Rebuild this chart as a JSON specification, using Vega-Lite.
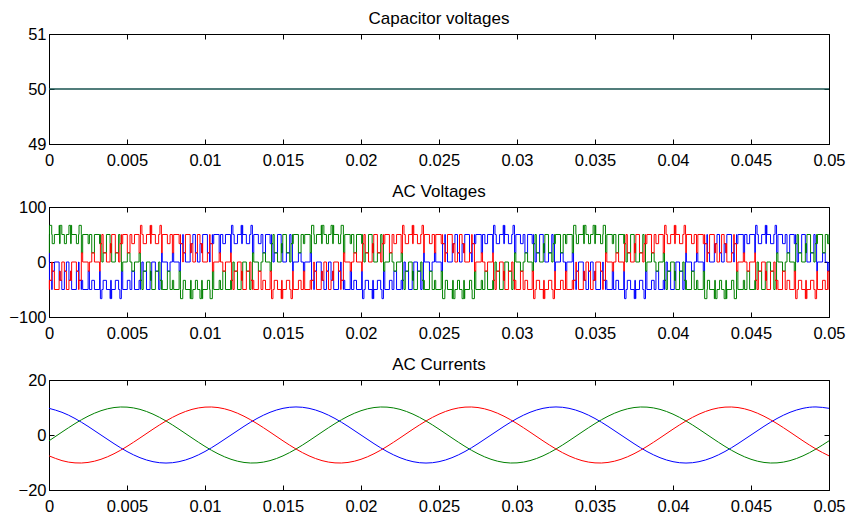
{
"$schema":"https://vega.github.io/schema/vega-lite/v6.json",
"padding":{"left":8,"top":9,"right":5,"bottom":2},
"background":"white",
"bounds":"flush",
"spacing":63,
"config":{
"font":"Liberation Sans",
"view":{"stroke":"black","strokeWidth":1},
"axis":{"grid":false,"title":null,"domainColor":"black","tickColor":"black","labelColor":"black","labelFontSize":16.5,"labelFont":"Liberation Sans","tickSize":-5,"labelFlush":false,"labelOverlap":false,"minExtent":0},
"title":{"fontSize":17,"fontWeight":"normal","color":"black","offset":-2,"font":"Liberation Sans"}
},
"datasets":{
"cap":[{"t":0,"v":50},{"t":0.05,"v":50}],
"cur":[
{"t":0,"b":9.70,"g":-2.12,"r":-7.58},
{"t":0.000833,"b":8.25,"g":1.07,"r":-9.32},
{"t":0.001667,"b":6.00,"g":4.15,"r":-10.14},
{"t":0.0025,"b":3.15,"g":6.82,"r":-9.98},
{"t":0.003333,"b":0,"g":8.83,"r":-8.83},
{"t":0.004167,"b":-3.15,"g":9.98,"r":-6.82},
{"t":0.005,"b":-6.00,"g":10.14,"r":-4.15},
{"t":0.005833,"b":-8.25,"g":9.32,"r":-1.07},
{"t":0.006667,"b":-9.70,"g":7.58,"r":2.12},
{"t":0.0075,"b":-10.2,"g":5.10,"r":5.10},
{"t":0.008333,"b":-9.70,"g":2.12,"r":7.58},
{"t":0.009167,"b":-8.25,"g":-1.07,"r":9.32},
{"t":0.01,"b":-6.00,"g":-4.15,"r":10.14},
{"t":0.010833,"b":-3.15,"g":-6.82,"r":9.98},
{"t":0.011667,"b":0,"g":-8.83,"r":8.83},
{"t":0.0125,"b":3.15,"g":-9.98,"r":6.82},
{"t":0.013333,"b":6.00,"g":-10.14,"r":4.15},
{"t":0.014167,"b":8.25,"g":-9.32,"r":1.07},
{"t":0.015,"b":9.70,"g":-7.58,"r":-2.12},
{"t":0.015833,"b":10.2,"g":-5.10,"r":-5.10},
{"t":0.016667,"b":9.70,"g":-2.12,"r":-7.58},
{"t":0.0175,"b":8.25,"g":1.07,"r":-9.32},
{"t":0.018333,"b":6.00,"g":4.15,"r":-10.14},
{"t":0.019167,"b":3.15,"g":6.82,"r":-9.98},
{"t":0.02,"b":0,"g":8.83,"r":-8.83},
{"t":0.020833,"b":-3.15,"g":9.98,"r":-6.82},
{"t":0.021667,"b":-6.00,"g":10.14,"r":-4.15},
{"t":0.0225,"b":-8.25,"g":9.32,"r":-1.07},
{"t":0.023333,"b":-9.70,"g":7.58,"r":2.12},
{"t":0.024167,"b":-10.2,"g":5.10,"r":5.10},
{"t":0.025,"b":-9.70,"g":2.12,"r":7.58},
{"t":0.025833,"b":-8.25,"g":-1.07,"r":9.32},
{"t":0.026667,"b":-6.00,"g":-4.15,"r":10.14},
{"t":0.0275,"b":-3.15,"g":-6.82,"r":9.98},
{"t":0.028333,"b":0,"g":-8.83,"r":8.83},
{"t":0.029167,"b":3.15,"g":-9.98,"r":6.82},
{"t":0.03,"b":6.00,"g":-10.14,"r":4.15},
{"t":0.030833,"b":8.25,"g":-9.32,"r":1.07},
{"t":0.031667,"b":9.70,"g":-7.58,"r":-2.12},
{"t":0.0325,"b":10.2,"g":-5.10,"r":-5.10},
{"t":0.033333,"b":9.70,"g":-2.12,"r":-7.58},
{"t":0.034167,"b":8.25,"g":1.07,"r":-9.32},
{"t":0.035,"b":6.00,"g":4.15,"r":-10.14},
{"t":0.035833,"b":3.15,"g":6.82,"r":-9.98},
{"t":0.036667,"b":0,"g":8.83,"r":-8.83},
{"t":0.0375,"b":-3.15,"g":9.98,"r":-6.82},
{"t":0.038333,"b":-6.00,"g":10.14,"r":-4.15},
{"t":0.039167,"b":-8.25,"g":9.32,"r":-1.07},
{"t":0.04,"b":-9.70,"g":7.58,"r":2.12},
{"t":0.040833,"b":-10.2,"g":5.10,"r":5.10},
{"t":0.041667,"b":-9.70,"g":2.12,"r":7.58},
{"t":0.0425,"b":-8.25,"g":-1.07,"r":9.32},
{"t":0.043333,"b":-6.00,"g":-4.15,"r":10.14},
{"t":0.044167,"b":-3.15,"g":-6.82,"r":9.98},
{"t":0.045,"b":0,"g":-8.83,"r":8.83},
{"t":0.045833,"b":3.15,"g":-9.98,"r":6.82},
{"t":0.046667,"b":6.00,"g":-10.14,"r":4.15},
{"t":0.0475,"b":8.25,"g":-9.32,"r":1.07},
{"t":0.048333,"b":9.70,"g":-7.58,"r":-2.12},
{"t":0.049167,"b":10.2,"g":-5.10,"r":-5.10},
{"t":0.05,"b":9.70,"g":-2.12,"r":-7.58}
],
"volt":[
{"t":0,"g":16.67,"r":-33.33,"b":16.67},
{"t":0.000024,"g":50,"r":-50,"b":0},
{"t":0.000029,"g":66.67,"r":-33.33,"b":-33.33},
{"t":0.000174,"g":50,"r":0,"b":-50},
{"t":0.000205,"g":33.33,"r":-16.67,"b":-16.67},
{"t":0.000345,"g":50,"r":-50,"b":0},
{"t":0.000649,"g":66.67,"r":-33.33,"b":-33.33},
{"t":0.000676,"g":33.33,"r":-16.67,"b":-16.67},
{"t":0.000714,"g":66.67,"r":-33.33,"b":-33.33},
{"t":0.000821,"g":50,"r":0,"b":-50},
{"t":0.000985,"g":33.33,"r":-16.67,"b":-16.67},
{"t":0.001115,"g":50,"r":-50,"b":0},
{"t":0.001279,"g":66.67,"r":-33.33,"b":-33.33},
{"t":0.001386,"g":33.33,"r":-16.67,"b":-16.67},
{"t":0.001424,"g":66.67,"r":-33.33,"b":-33.33},
{"t":0.001451,"g":50,"r":0,"b":-50},
{"t":0.001755,"g":33.33,"r":-16.67,"b":-16.67},
{"t":0.001895,"g":50,"r":-50,"b":0},
{"t":0.001926,"g":66.67,"r":-33.33,"b":-33.33},
{"t":0.002071,"g":50,"r":0,"b":-50},
{"t":0.002076,"g":16.67,"r":16.67,"b":-33.33},
{"t":0.002159,"g":50,"r":0,"b":-50},
{"t":0.002508,"g":33.33,"r":-16.67,"b":-16.67},
{"t":0.002591,"g":50,"r":0,"b":-50},
{"t":0.002741,"g":16.67,"r":16.67,"b":-33.33},
{"t":0.002912,"g":50,"r":0,"b":-50},
{"t":0.003243,"g":33.33,"r":-16.67,"b":-16.67},
{"t":0.003281,"g":50,"r":0,"b":-50},
{"t":0.003295,"g":33.33,"r":33.33,"b":-66.67},
{"t":0.003388,"g":0,"r":50,"b":-50},
{"t":0.003471,"g":16.67,"r":16.67,"b":-33.33},
{"t":0.003682,"g":50,"r":0,"b":-50},
{"t":0.003915,"g":33.33,"r":33.33,"b":-66.67},
{"t":0.003953,"g":16.67,"r":16.67,"b":-33.33},
{"t":0.003991,"g":33.33,"r":33.33,"b":-66.67},
{"t":0.004018,"g":0,"r":50,"b":-50},
{"t":0.004251,"g":16.67,"r":16.67,"b":-33.33},
{"t":0.004462,"g":50,"r":0,"b":-50},
{"t":0.004545,"g":33.33,"r":33.33,"b":-66.67},
{"t":0.004638,"g":0,"r":50,"b":-50},
{"t":0.004643,"g":-16.67,"r":33.33,"b":-16.67},
{"t":0.004726,"g":0,"r":50,"b":-50},
{"t":0.005021,"g":16.67,"r":16.67,"b":-33.33},
{"t":0.005192,"g":0,"r":50,"b":-50},
{"t":0.005308,"g":-16.67,"r":33.33,"b":-16.67},
{"t":0.005479,"g":0,"r":50,"b":-50},
{"t":0.005774,"g":16.67,"r":16.67,"b":-33.33},
{"t":0.005857,"g":0,"r":50,"b":-50},
{"t":0.005862,"g":-33.33,"r":66.67,"b":-33.33},
{"t":0.005955,"g":-50,"r":50,"b":0},
{"t":0.006038,"g":-16.67,"r":33.33,"b":-16.67},
{"t":0.006249,"g":0,"r":50,"b":-50},
{"t":0.006482,"g":-33.33,"r":66.67,"b":-33.33},
{"t":0.006509,"g":-16.67,"r":33.33,"b":-16.67},
{"t":0.006547,"g":-33.33,"r":66.67,"b":-33.33},
{"t":0.006585,"g":-50,"r":50,"b":0},
{"t":0.006818,"g":-16.67,"r":33.33,"b":-16.67},
{"t":0.007029,"g":0,"r":50,"b":-50},
{"t":0.007112,"g":-33.33,"r":66.67,"b":-33.33},
{"t":0.007205,"g":-50,"r":50,"b":0},
{"t":0.007219,"g":-33.33,"r":16.67,"b":16.67},
{"t":0.007257,"g":-50,"r":50,"b":0},
{"t":0.007588,"g":-16.67,"r":33.33,"b":-16.67},
{"t":0.007759,"g":-50,"r":50,"b":0},
{"t":0.007909,"g":-33.33,"r":16.67,"b":16.67},
{"t":0.007992,"g":-50,"r":50,"b":0},
{"t":0.008341,"g":-16.67,"r":33.33,"b":-16.67},
{"t":0.008424,"g":-50,"r":50,"b":0},
{"t":0.008429,"g":-66.67,"r":33.33,"b":33.33},
{"t":0.008574,"g":-50,"r":0,"b":50},
{"t":0.008605,"g":-33.33,"r":16.67,"b":16.67},
{"t":0.008745,"g":-50,"r":50,"b":0},
{"t":0.009049,"g":-66.67,"r":33.33,"b":33.33},
{"t":0.009076,"g":-33.33,"r":16.67,"b":16.67},
{"t":0.009114,"g":-66.67,"r":33.33,"b":33.33},
{"t":0.009221,"g":-50,"r":0,"b":50},
{"t":0.009385,"g":-33.33,"r":16.67,"b":16.67},
{"t":0.009515,"g":-50,"r":50,"b":0},
{"t":0.009679,"g":-66.67,"r":33.33,"b":33.33},
{"t":0.009786,"g":-33.33,"r":16.67,"b":16.67},
{"t":0.009824,"g":-66.67,"r":33.33,"b":33.33},
{"t":0.009851,"g":-50,"r":0,"b":50},
{"t":0.010155,"g":-33.33,"r":16.67,"b":16.67},
{"t":0.010295,"g":-50,"r":50,"b":0},
{"t":0.010326,"g":-66.67,"r":33.33,"b":33.33},
{"t":0.010471,"g":-50,"r":0,"b":50},
{"t":0.010476,"g":-16.67,"r":-16.67,"b":33.33},
{"t":0.010559,"g":-50,"r":0,"b":50},
{"t":0.010908,"g":-33.33,"r":16.67,"b":16.67},
{"t":0.010991,"g":-50,"r":0,"b":50},
{"t":0.011141,"g":-16.67,"r":-16.67,"b":33.33},
{"t":0.011312,"g":-50,"r":0,"b":50},
{"t":0.011643,"g":-33.33,"r":16.67,"b":16.67},
{"t":0.011681,"g":-50,"r":0,"b":50},
{"t":0.011695,"g":-33.33,"r":-33.33,"b":66.67},
{"t":0.011788,"g":0,"r":-50,"b":50},
{"t":0.011871,"g":-16.67,"r":-16.67,"b":33.33},
{"t":0.012082,"g":-50,"r":0,"b":50},
{"t":0.012315,"g":-33.33,"r":-33.33,"b":66.67},
{"t":0.012353,"g":-16.67,"r":-16.67,"b":33.33},
{"t":0.012391,"g":-33.33,"r":-33.33,"b":66.67},
{"t":0.012418,"g":0,"r":-50,"b":50},
{"t":0.012651,"g":-16.67,"r":-16.67,"b":33.33},
{"t":0.012862,"g":-50,"r":0,"b":50},
{"t":0.012945,"g":-33.33,"r":-33.33,"b":66.67},
{"t":0.013038,"g":0,"r":-50,"b":50},
{"t":0.013043,"g":16.67,"r":-33.33,"b":16.67},
{"t":0.013126,"g":0,"r":-50,"b":50},
{"t":0.013421,"g":-16.67,"r":-16.67,"b":33.33},
{"t":0.013592,"g":0,"r":-50,"b":50},
{"t":0.013708,"g":16.67,"r":-33.33,"b":16.67},
{"t":0.013879,"g":0,"r":-50,"b":50},
{"t":0.014174,"g":-16.67,"r":-16.67,"b":33.33},
{"t":0.014257,"g":0,"r":-50,"b":50},
{"t":0.014262,"g":33.33,"r":-66.67,"b":33.33},
{"t":0.014355,"g":50,"r":-50,"b":0},
{"t":0.014438,"g":16.67,"r":-33.33,"b":16.67},
{"t":0.014649,"g":0,"r":-50,"b":50},
{"t":0.014882,"g":33.33,"r":-66.67,"b":33.33},
{"t":0.014909,"g":16.67,"r":-33.33,"b":16.67},
{"t":0.014947,"g":33.33,"r":-66.67,"b":33.33},
{"t":0.014985,"g":50,"r":-50,"b":0},
{"t":0.015218,"g":16.67,"r":-33.33,"b":16.67},
{"t":0.015429,"g":0,"r":-50,"b":50},
{"t":0.015512,"g":33.33,"r":-66.67,"b":33.33},
{"t":0.015605,"g":50,"r":-50,"b":0},
{"t":0.015619,"g":33.33,"r":-16.67,"b":-16.67},
{"t":0.015657,"g":50,"r":-50,"b":0},
{"t":0.015988,"g":16.67,"r":-33.33,"b":16.67},
{"t":0.016159,"g":50,"r":-50,"b":0},
{"t":0.016309,"g":33.33,"r":-16.67,"b":-16.67},
{"t":0.016392,"g":50,"r":-50,"b":0},
{"t":0.016741,"g":16.67,"r":-33.33,"b":16.67},
{"t":0.016824,"g":50,"r":-50,"b":0},
{"t":0.016829,"g":66.67,"r":-33.33,"b":-33.33},
{"t":0.016974,"g":50,"r":0,"b":-50},
{"t":0.017005,"g":33.33,"r":-16.67,"b":-16.67},
{"t":0.017145,"g":50,"r":-50,"b":0},
{"t":0.017449,"g":66.67,"r":-33.33,"b":-33.33},
{"t":0.017476,"g":33.33,"r":-16.67,"b":-16.67},
{"t":0.017514,"g":66.67,"r":-33.33,"b":-33.33},
{"t":0.017621,"g":50,"r":0,"b":-50},
{"t":0.017785,"g":33.33,"r":-16.67,"b":-16.67},
{"t":0.017915,"g":50,"r":-50,"b":0},
{"t":0.018079,"g":66.67,"r":-33.33,"b":-33.33},
{"t":0.018186,"g":33.33,"r":-16.67,"b":-16.67},
{"t":0.018224,"g":66.67,"r":-33.33,"b":-33.33},
{"t":0.018251,"g":50,"r":0,"b":-50},
{"t":0.018555,"g":33.33,"r":-16.67,"b":-16.67},
{"t":0.018695,"g":50,"r":-50,"b":0},
{"t":0.018726,"g":66.67,"r":-33.33,"b":-33.33},
{"t":0.018871,"g":50,"r":0,"b":-50},
{"t":0.018876,"g":16.67,"r":16.67,"b":-33.33},
{"t":0.018959,"g":50,"r":0,"b":-50},
{"t":0.019308,"g":33.33,"r":-16.67,"b":-16.67},
{"t":0.019391,"g":50,"r":0,"b":-50},
{"t":0.019541,"g":16.67,"r":16.67,"b":-33.33},
{"t":0.019712,"g":50,"r":0,"b":-50},
{"t":0.020043,"g":33.33,"r":-16.67,"b":-16.67},
{"t":0.020081,"g":50,"r":0,"b":-50},
{"t":0.020095,"g":33.33,"r":33.33,"b":-66.67},
{"t":0.020188,"g":0,"r":50,"b":-50},
{"t":0.020271,"g":16.67,"r":16.67,"b":-33.33},
{"t":0.020482,"g":50,"r":0,"b":-50},
{"t":0.020715,"g":33.33,"r":33.33,"b":-66.67},
{"t":0.020753,"g":16.67,"r":16.67,"b":-33.33},
{"t":0.020791,"g":33.33,"r":33.33,"b":-66.67},
{"t":0.020818,"g":0,"r":50,"b":-50},
{"t":0.021051,"g":16.67,"r":16.67,"b":-33.33},
{"t":0.021262,"g":50,"r":0,"b":-50},
{"t":0.021345,"g":33.33,"r":33.33,"b":-66.67},
{"t":0.021438,"g":0,"r":50,"b":-50},
{"t":0.021443,"g":-16.67,"r":33.33,"b":-16.67},
{"t":0.021526,"g":0,"r":50,"b":-50},
{"t":0.021821,"g":16.67,"r":16.67,"b":-33.33},
{"t":0.021992,"g":0,"r":50,"b":-50},
{"t":0.022108,"g":-16.67,"r":33.33,"b":-16.67},
{"t":0.022279,"g":0,"r":50,"b":-50},
{"t":0.022574,"g":16.67,"r":16.67,"b":-33.33},
{"t":0.022657,"g":0,"r":50,"b":-50},
{"t":0.022662,"g":-33.33,"r":66.67,"b":-33.33},
{"t":0.022755,"g":-50,"r":50,"b":0},
{"t":0.022838,"g":-16.67,"r":33.33,"b":-16.67},
{"t":0.023049,"g":0,"r":50,"b":-50},
{"t":0.023282,"g":-33.33,"r":66.67,"b":-33.33},
{"t":0.023309,"g":-16.67,"r":33.33,"b":-16.67},
{"t":0.023347,"g":-33.33,"r":66.67,"b":-33.33},
{"t":0.023385,"g":-50,"r":50,"b":0},
{"t":0.023618,"g":-16.67,"r":33.33,"b":-16.67},
{"t":0.023829,"g":0,"r":50,"b":-50},
{"t":0.023912,"g":-33.33,"r":66.67,"b":-33.33},
{"t":0.024005,"g":-50,"r":50,"b":0},
{"t":0.024019,"g":-33.33,"r":16.67,"b":16.67},
{"t":0.024057,"g":-50,"r":50,"b":0},
{"t":0.024388,"g":-16.67,"r":33.33,"b":-16.67},
{"t":0.024559,"g":-50,"r":50,"b":0},
{"t":0.024709,"g":-33.33,"r":16.67,"b":16.67},
{"t":0.024792,"g":-50,"r":50,"b":0},
{"t":0.025141,"g":-16.67,"r":33.33,"b":-16.67},
{"t":0.025224,"g":-50,"r":50,"b":0},
{"t":0.025229,"g":-66.67,"r":33.33,"b":33.33},
{"t":0.025374,"g":-50,"r":0,"b":50},
{"t":0.025405,"g":-33.33,"r":16.67,"b":16.67},
{"t":0.025545,"g":-50,"r":50,"b":0},
{"t":0.025849,"g":-66.67,"r":33.33,"b":33.33},
{"t":0.025876,"g":-33.33,"r":16.67,"b":16.67},
{"t":0.025914,"g":-66.67,"r":33.33,"b":33.33},
{"t":0.026021,"g":-50,"r":0,"b":50},
{"t":0.026185,"g":-33.33,"r":16.67,"b":16.67},
{"t":0.026315,"g":-50,"r":50,"b":0},
{"t":0.026479,"g":-66.67,"r":33.33,"b":33.33},
{"t":0.026586,"g":-33.33,"r":16.67,"b":16.67},
{"t":0.026624,"g":-66.67,"r":33.33,"b":33.33},
{"t":0.026651,"g":-50,"r":0,"b":50},
{"t":0.026955,"g":-33.33,"r":16.67,"b":16.67},
{"t":0.027095,"g":-50,"r":50,"b":0},
{"t":0.027126,"g":-66.67,"r":33.33,"b":33.33},
{"t":0.027271,"g":-50,"r":0,"b":50},
{"t":0.027276,"g":-16.67,"r":-16.67,"b":33.33},
{"t":0.027359,"g":-50,"r":0,"b":50},
{"t":0.027708,"g":-33.33,"r":16.67,"b":16.67},
{"t":0.027791,"g":-50,"r":0,"b":50},
{"t":0.027941,"g":-16.67,"r":-16.67,"b":33.33},
{"t":0.028112,"g":-50,"r":0,"b":50},
{"t":0.028443,"g":-33.33,"r":16.67,"b":16.67},
{"t":0.028481,"g":-50,"r":0,"b":50},
{"t":0.028495,"g":-33.33,"r":-33.33,"b":66.67},
{"t":0.028588,"g":0,"r":-50,"b":50},
{"t":0.028671,"g":-16.67,"r":-16.67,"b":33.33},
{"t":0.028882,"g":-50,"r":0,"b":50},
{"t":0.029115,"g":-33.33,"r":-33.33,"b":66.67},
{"t":0.029153,"g":-16.67,"r":-16.67,"b":33.33},
{"t":0.029191,"g":-33.33,"r":-33.33,"b":66.67},
{"t":0.029218,"g":0,"r":-50,"b":50},
{"t":0.029451,"g":-16.67,"r":-16.67,"b":33.33},
{"t":0.029662,"g":-50,"r":0,"b":50},
{"t":0.029745,"g":-33.33,"r":-33.33,"b":66.67},
{"t":0.029838,"g":0,"r":-50,"b":50},
{"t":0.029843,"g":16.67,"r":-33.33,"b":16.67},
{"t":0.029926,"g":0,"r":-50,"b":50},
{"t":0.030221,"g":-16.67,"r":-16.67,"b":33.33},
{"t":0.030392,"g":0,"r":-50,"b":50},
{"t":0.030508,"g":16.67,"r":-33.33,"b":16.67},
{"t":0.030679,"g":0,"r":-50,"b":50},
{"t":0.030974,"g":-16.67,"r":-16.67,"b":33.33},
{"t":0.031057,"g":0,"r":-50,"b":50},
{"t":0.031062,"g":33.33,"r":-66.67,"b":33.33},
{"t":0.031155,"g":50,"r":-50,"b":0},
{"t":0.031238,"g":16.67,"r":-33.33,"b":16.67},
{"t":0.031449,"g":0,"r":-50,"b":50},
{"t":0.031682,"g":33.33,"r":-66.67,"b":33.33},
{"t":0.031709,"g":16.67,"r":-33.33,"b":16.67},
{"t":0.031747,"g":33.33,"r":-66.67,"b":33.33},
{"t":0.031785,"g":50,"r":-50,"b":0},
{"t":0.032018,"g":16.67,"r":-33.33,"b":16.67},
{"t":0.032229,"g":0,"r":-50,"b":50},
{"t":0.032312,"g":33.33,"r":-66.67,"b":33.33},
{"t":0.032405,"g":50,"r":-50,"b":0},
{"t":0.032419,"g":33.33,"r":-16.67,"b":-16.67},
{"t":0.032457,"g":50,"r":-50,"b":0},
{"t":0.032788,"g":16.67,"r":-33.33,"b":16.67},
{"t":0.032959,"g":50,"r":-50,"b":0},
{"t":0.033109,"g":33.33,"r":-16.67,"b":-16.67},
{"t":0.033192,"g":50,"r":-50,"b":0},
{"t":0.033541,"g":16.67,"r":-33.33,"b":16.67},
{"t":0.033624,"g":50,"r":-50,"b":0},
{"t":0.033629,"g":66.67,"r":-33.33,"b":-33.33},
{"t":0.033774,"g":50,"r":0,"b":-50},
{"t":0.033805,"g":33.33,"r":-16.67,"b":-16.67},
{"t":0.033945,"g":50,"r":-50,"b":0},
{"t":0.034249,"g":66.67,"r":-33.33,"b":-33.33},
{"t":0.034276,"g":33.33,"r":-16.67,"b":-16.67},
{"t":0.034314,"g":66.67,"r":-33.33,"b":-33.33},
{"t":0.034421,"g":50,"r":0,"b":-50},
{"t":0.034585,"g":33.33,"r":-16.67,"b":-16.67},
{"t":0.034715,"g":50,"r":-50,"b":0},
{"t":0.034879,"g":66.67,"r":-33.33,"b":-33.33},
{"t":0.034986,"g":33.33,"r":-16.67,"b":-16.67},
{"t":0.035024,"g":66.67,"r":-33.33,"b":-33.33},
{"t":0.035051,"g":50,"r":0,"b":-50},
{"t":0.035355,"g":33.33,"r":-16.67,"b":-16.67},
{"t":0.035495,"g":50,"r":-50,"b":0},
{"t":0.035526,"g":66.67,"r":-33.33,"b":-33.33},
{"t":0.035671,"g":50,"r":0,"b":-50},
{"t":0.035676,"g":16.67,"r":16.67,"b":-33.33},
{"t":0.035759,"g":50,"r":0,"b":-50},
{"t":0.036108,"g":33.33,"r":-16.67,"b":-16.67},
{"t":0.036191,"g":50,"r":0,"b":-50},
{"t":0.036341,"g":16.67,"r":16.67,"b":-33.33},
{"t":0.036512,"g":50,"r":0,"b":-50},
{"t":0.036843,"g":33.33,"r":-16.67,"b":-16.67},
{"t":0.036881,"g":50,"r":0,"b":-50},
{"t":0.036895,"g":33.33,"r":33.33,"b":-66.67},
{"t":0.036988,"g":0,"r":50,"b":-50},
{"t":0.037071,"g":16.67,"r":16.67,"b":-33.33},
{"t":0.037282,"g":50,"r":0,"b":-50},
{"t":0.037515,"g":33.33,"r":33.33,"b":-66.67},
{"t":0.037553,"g":16.67,"r":16.67,"b":-33.33},
{"t":0.037591,"g":33.33,"r":33.33,"b":-66.67},
{"t":0.037618,"g":0,"r":50,"b":-50},
{"t":0.037851,"g":16.67,"r":16.67,"b":-33.33},
{"t":0.038062,"g":50,"r":0,"b":-50},
{"t":0.038145,"g":33.33,"r":33.33,"b":-66.67},
{"t":0.038238,"g":0,"r":50,"b":-50},
{"t":0.038243,"g":-16.67,"r":33.33,"b":-16.67},
{"t":0.038326,"g":0,"r":50,"b":-50},
{"t":0.038621,"g":16.67,"r":16.67,"b":-33.33},
{"t":0.038792,"g":0,"r":50,"b":-50},
{"t":0.038908,"g":-16.67,"r":33.33,"b":-16.67},
{"t":0.039079,"g":0,"r":50,"b":-50},
{"t":0.039374,"g":16.67,"r":16.67,"b":-33.33},
{"t":0.039457,"g":0,"r":50,"b":-50},
{"t":0.039462,"g":-33.33,"r":66.67,"b":-33.33},
{"t":0.039555,"g":-50,"r":50,"b":0},
{"t":0.039638,"g":-16.67,"r":33.33,"b":-16.67},
{"t":0.039849,"g":0,"r":50,"b":-50},
{"t":0.040082,"g":-33.33,"r":66.67,"b":-33.33},
{"t":0.040109,"g":-16.67,"r":33.33,"b":-16.67},
{"t":0.040147,"g":-33.33,"r":66.67,"b":-33.33},
{"t":0.040185,"g":-50,"r":50,"b":0},
{"t":0.040418,"g":-16.67,"r":33.33,"b":-16.67},
{"t":0.040629,"g":0,"r":50,"b":-50},
{"t":0.040712,"g":-33.33,"r":66.67,"b":-33.33},
{"t":0.040805,"g":-50,"r":50,"b":0},
{"t":0.040819,"g":-33.33,"r":16.67,"b":16.67},
{"t":0.040857,"g":-50,"r":50,"b":0},
{"t":0.041188,"g":-16.67,"r":33.33,"b":-16.67},
{"t":0.041359,"g":-50,"r":50,"b":0},
{"t":0.041509,"g":-33.33,"r":16.67,"b":16.67},
{"t":0.041592,"g":-50,"r":50,"b":0},
{"t":0.041941,"g":-16.67,"r":33.33,"b":-16.67},
{"t":0.042024,"g":-50,"r":50,"b":0},
{"t":0.042029,"g":-66.67,"r":33.33,"b":33.33},
{"t":0.042174,"g":-50,"r":0,"b":50},
{"t":0.042205,"g":-33.33,"r":16.67,"b":16.67},
{"t":0.042345,"g":-50,"r":50,"b":0},
{"t":0.042649,"g":-66.67,"r":33.33,"b":33.33},
{"t":0.042676,"g":-33.33,"r":16.67,"b":16.67},
{"t":0.042714,"g":-66.67,"r":33.33,"b":33.33},
{"t":0.042821,"g":-50,"r":0,"b":50},
{"t":0.042985,"g":-33.33,"r":16.67,"b":16.67},
{"t":0.043115,"g":-50,"r":50,"b":0},
{"t":0.043279,"g":-66.67,"r":33.33,"b":33.33},
{"t":0.043386,"g":-33.33,"r":16.67,"b":16.67},
{"t":0.043424,"g":-66.67,"r":33.33,"b":33.33},
{"t":0.043451,"g":-50,"r":0,"b":50},
{"t":0.043755,"g":-33.33,"r":16.67,"b":16.67},
{"t":0.043895,"g":-50,"r":50,"b":0},
{"t":0.043926,"g":-66.67,"r":33.33,"b":33.33},
{"t":0.044071,"g":-50,"r":0,"b":50},
{"t":0.044076,"g":-16.67,"r":-16.67,"b":33.33},
{"t":0.044159,"g":-50,"r":0,"b":50},
{"t":0.044508,"g":-33.33,"r":16.67,"b":16.67},
{"t":0.044591,"g":-50,"r":0,"b":50},
{"t":0.044741,"g":-16.67,"r":-16.67,"b":33.33},
{"t":0.044912,"g":-50,"r":0,"b":50},
{"t":0.045243,"g":-33.33,"r":16.67,"b":16.67},
{"t":0.045281,"g":-50,"r":0,"b":50},
{"t":0.045295,"g":-33.33,"r":-33.33,"b":66.67},
{"t":0.045388,"g":0,"r":-50,"b":50},
{"t":0.045471,"g":-16.67,"r":-16.67,"b":33.33},
{"t":0.045682,"g":-50,"r":0,"b":50},
{"t":0.045915,"g":-33.33,"r":-33.33,"b":66.67},
{"t":0.045953,"g":-16.67,"r":-16.67,"b":33.33},
{"t":0.045991,"g":-33.33,"r":-33.33,"b":66.67},
{"t":0.046018,"g":0,"r":-50,"b":50},
{"t":0.046251,"g":-16.67,"r":-16.67,"b":33.33},
{"t":0.046462,"g":-50,"r":0,"b":50},
{"t":0.046545,"g":-33.33,"r":-33.33,"b":66.67},
{"t":0.046638,"g":0,"r":-50,"b":50},
{"t":0.046643,"g":16.67,"r":-33.33,"b":16.67},
{"t":0.046726,"g":0,"r":-50,"b":50},
{"t":0.047021,"g":-16.67,"r":-16.67,"b":33.33},
{"t":0.047192,"g":0,"r":-50,"b":50},
{"t":0.047308,"g":16.67,"r":-33.33,"b":16.67},
{"t":0.047479,"g":0,"r":-50,"b":50},
{"t":0.047774,"g":-16.67,"r":-16.67,"b":33.33},
{"t":0.047857,"g":0,"r":-50,"b":50},
{"t":0.047862,"g":33.33,"r":-66.67,"b":33.33},
{"t":0.047955,"g":50,"r":-50,"b":0},
{"t":0.048038,"g":16.67,"r":-33.33,"b":16.67},
{"t":0.048249,"g":0,"r":-50,"b":50},
{"t":0.048482,"g":33.33,"r":-66.67,"b":33.33},
{"t":0.048509,"g":16.67,"r":-33.33,"b":16.67},
{"t":0.048547,"g":33.33,"r":-66.67,"b":33.33},
{"t":0.048585,"g":50,"r":-50,"b":0},
{"t":0.048818,"g":16.67,"r":-33.33,"b":16.67},
{"t":0.049029,"g":0,"r":-50,"b":50},
{"t":0.049112,"g":33.33,"r":-66.67,"b":33.33},
{"t":0.049205,"g":50,"r":-50,"b":0},
{"t":0.049219,"g":33.33,"r":-16.67,"b":-16.67},
{"t":0.049257,"g":50,"r":-50,"b":0},
{"t":0.049588,"g":16.67,"r":-33.33,"b":16.67},
{"t":0.049759,"g":50,"r":-50,"b":0},
{"t":0.049909,"g":33.33,"r":-16.67,"b":-16.67},
{"t":0.049992,"g":50,"r":-50,"b":0},
{"t":0.05,"g":50,"r":-50,"b":0}
]
},
"vconcat":[
{
"title":"Capacitor voltages",
"width":780,"height":110,
"data":{"name":"cap"},
"layer":[
{"mark":{"type":"line","color":"#17524f","strokeWidth":1.3},
"encoding":{
"x":{"field":"t","type":"quantitative","scale":{"domain":[0,0.05],"nice":false,"zero":false},"axis":{"values":[0,0.005,0.01,0.015,0.02,0.025,0.03,0.035,0.04,0.045,0.05],"format":"~g","labelPadding":13}},
"y":{"field":"v","type":"quantitative","scale":{"domain":[49,51],"nice":false,"zero":false},"axis":{"values":[49,50,51],"labelExpr":"format(datum.value,'d')","labelOverlap":false,"labelPadding":8}}}},
{"mark":{"type":"line","strokeOpacity":0},
"encoding":{
"x":{"field":"t","type":"quantitative","axis":{"orient":"top","labels":false,"domain":false,"maxExtent":0,"values":[0,0.005,0.01,0.015,0.02,0.025,0.03,0.035,0.04,0.045,0.05]}},
"y":{"field":"v","type":"quantitative","axis":{"orient":"right","labels":false,"domain":false,"maxExtent":0,"values":[49,50,51]}}}}
],
"resolve":{"axis":{"x":"independent","y":"independent"}}
},
{
"title":"AC Voltages",
"width":780,"height":110,
"data":{"name":"volt"},
"transform":[{"fold":["b","g","r"],"as":["phase","v"]}],
"layer":[
{"mark":{"type":"line","interpolate":"step-after","strokeWidth":1},
"encoding":{
"x":{"field":"t","type":"quantitative","scale":{"domain":[0,0.05],"nice":false,"zero":false},"axis":{"values":[0,0.005,0.01,0.015,0.02,0.025,0.03,0.035,0.04,0.045,0.05],"format":"~g","labelPadding":13}},
"y":{"field":"v","type":"quantitative","scale":{"domain":[-100,100],"nice":false},"axis":{"values":[-100,0,100],"format":"d","labelOverlap":false,"labelPadding":8}},
"color":{"field":"phase","type":"nominal","scale":{"domain":["b","g","r"],"range":["#0000ff","#008000","#ff0000"]},"legend":null}}},
{"mark":{"type":"line","strokeOpacity":0},
"encoding":{
"x":{"field":"t","type":"quantitative","axis":{"orient":"top","labels":false,"domain":false,"maxExtent":0,"values":[0,0.005,0.01,0.015,0.02,0.025,0.03,0.035,0.04,0.045,0.05]}},
"y":{"field":"v","type":"quantitative","axis":{"orient":"right","labels":false,"domain":false,"maxExtent":0,"values":[-100,0,100]}},
"detail":{"field":"phase"}}}
],
"resolve":{"axis":{"x":"independent","y":"independent"}}
},
{
"title":"AC Currents",
"width":780,"height":110,
"data":{"name":"cur"},
"transform":[{"fold":["b","g","r"],"as":["phase","i"]}],
"layer":[
{"mark":{"type":"line","interpolate":"natural","strokeWidth":1},
"encoding":{
"x":{"field":"t","type":"quantitative","scale":{"domain":[0,0.05],"nice":false,"zero":false},"axis":{"values":[0,0.005,0.01,0.015,0.02,0.025,0.03,0.035,0.04,0.045,0.05],"format":"~g","labelPadding":13}},
"y":{"field":"i","type":"quantitative","scale":{"domain":[-20,20],"nice":false},"axis":{"values":[-20,0,20],"format":"d","labelOverlap":false,"labelPadding":8}},
"color":{"field":"phase","type":"nominal","scale":{"domain":["b","g","r"],"range":["#0000ff","#008000","#ff0000"]},"legend":null}}},
{"mark":{"type":"line","strokeOpacity":0},
"encoding":{
"x":{"field":"t","type":"quantitative","axis":{"orient":"top","labels":false,"domain":false,"maxExtent":0,"values":[0,0.005,0.01,0.015,0.02,0.025,0.03,0.035,0.04,0.045,0.05]}},
"y":{"field":"i","type":"quantitative","axis":{"orient":"right","labels":false,"domain":false,"maxExtent":0,"values":[-20,0,20]}},
"detail":{"field":"phase"}}}
],
"resolve":{"axis":{"x":"independent","y":"independent"}}
}
]
}
